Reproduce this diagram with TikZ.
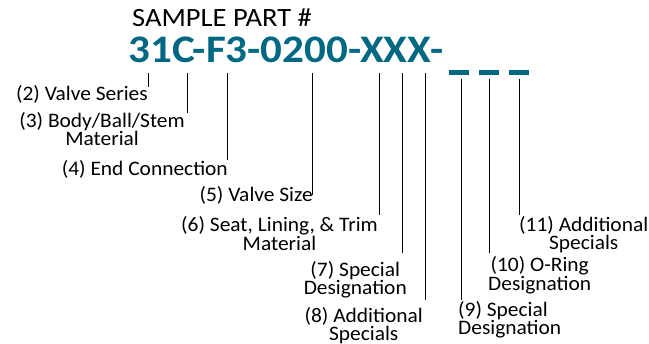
\documentclass[tikz,border=0pt]{standalone}
\usepackage{fontspec}
\setmainfont[FakeStretch=1.04]{Carlito}
\newfontfamily\headfont[FakeStretch=1.08]{Carlito}
\newfontfamily\numfont[FakeStretch=1.105]{Carlito}
\definecolor{partteal}{RGB}{0,104,130}
\tikzset{
  heading/.style={inner sep=0pt, font=\headfont\fontsize{26.4}{28}\selectfont},
  partnum/.style={inner sep=0pt, text=partteal, font=\numfont\fontsize{39}{40}\bfseries},
  desc/.style={inner sep=0pt, align=center, font=\fontsize{20.6}{15.5}\selectfont},
  descl/.style={desc, align=left},
  tick/.style={black, line width=0.9pt},
}
\begin{document}
\begin{tikzpicture}[x=1pt, y=-1pt]
  \useasboundingbox (0,0) rectangle (649,344);

  % Part number
  \node[heading, anchor=base west] (head) at (132,27) {SAMPLE PART \#};
  \node[partnum, anchor=base west] (num) at (128.5,63) {31C-F3-0200-XXX-};
  \foreach \x in {449,479,509}
    \fill[partteal] (\x,70) rectangle ++(20,5);

  % Tick points under the characters
  \coordinate (t1) at (148,73);
  \coordinate (t2) at (187,73);
  \coordinate (t3) at (227,73);
  \coordinate (t4) at (312,73);
  \coordinate (t5) at (379,73);
  \coordinate (t6) at (402,73);
  \coordinate (t7) at (425,73);
  \coordinate (t8) at (461,79);
  \coordinate (t9) at (489,79);
  \coordinate (t10) at (519,79);

  % Descriptions
  \node[desc, anchor=north east] (d2) at (148,85) {(2) Valve Series};
  \node[desc, anchor=north east] (d3) at (185,112) {(3) Body/Ball/Stem\\Material};
  \node[desc, anchor=north east] (d4) at (228,160) {(4) End Connection};
  \node[desc, anchor=north east] (d5) at (313,186) {(5) Valve Size};
  \node[desc, anchor=north east] (d6) at (378,216) {(6) Seat, Lining, \& Trim\\Material};
  \node[desc, anchor=north east] (d7) at (407,261) {(7) Special\\Designation};
  \node[desc, anchor=north east] (d8) at (423,307) {(8) Additional\\Specials};
  \node[descl, anchor=north west] (d9) at (458,301) {(9) Special\\Designation};
  \node[desc, anchor=north west] (d10) at (488,256) {(10) O-Ring\\Designation};
  \node[desc, anchor=north west] (d11) at (519,216) {(11) Additional\\Specials};

  % Leader lines
  \draw[tick, shorten >=-2pt] (t1) -- (t1 |- d2.north);
  \draw[tick, shorten >=-1pt] (t2) -- (t2 |- d3.north);
  \draw[tick] (t3) -- (t3 |- d4.north);
  \draw[tick, shorten >=-9pt] (t4) -- (t4 |- d5.north);
  \draw[tick, shorten >=1pt] (t5) -- (t5 |- d6.north);
  \draw[tick, shorten >=8pt] (t6) -- (t6 |- d7.north);
  \draw[tick, shorten >=7pt] (t7) -- (t7 |- d8.north);
  \draw[tick, shorten >=1pt] (t8) -- (t8 |- d9.north);
  \draw[tick, shorten >=3pt] (t9) -- (t9 |- d10.north);
  \draw[tick, shorten >=1pt] (t10) -- (t10 |- d11.north);
\end{tikzpicture}
\end{document}
